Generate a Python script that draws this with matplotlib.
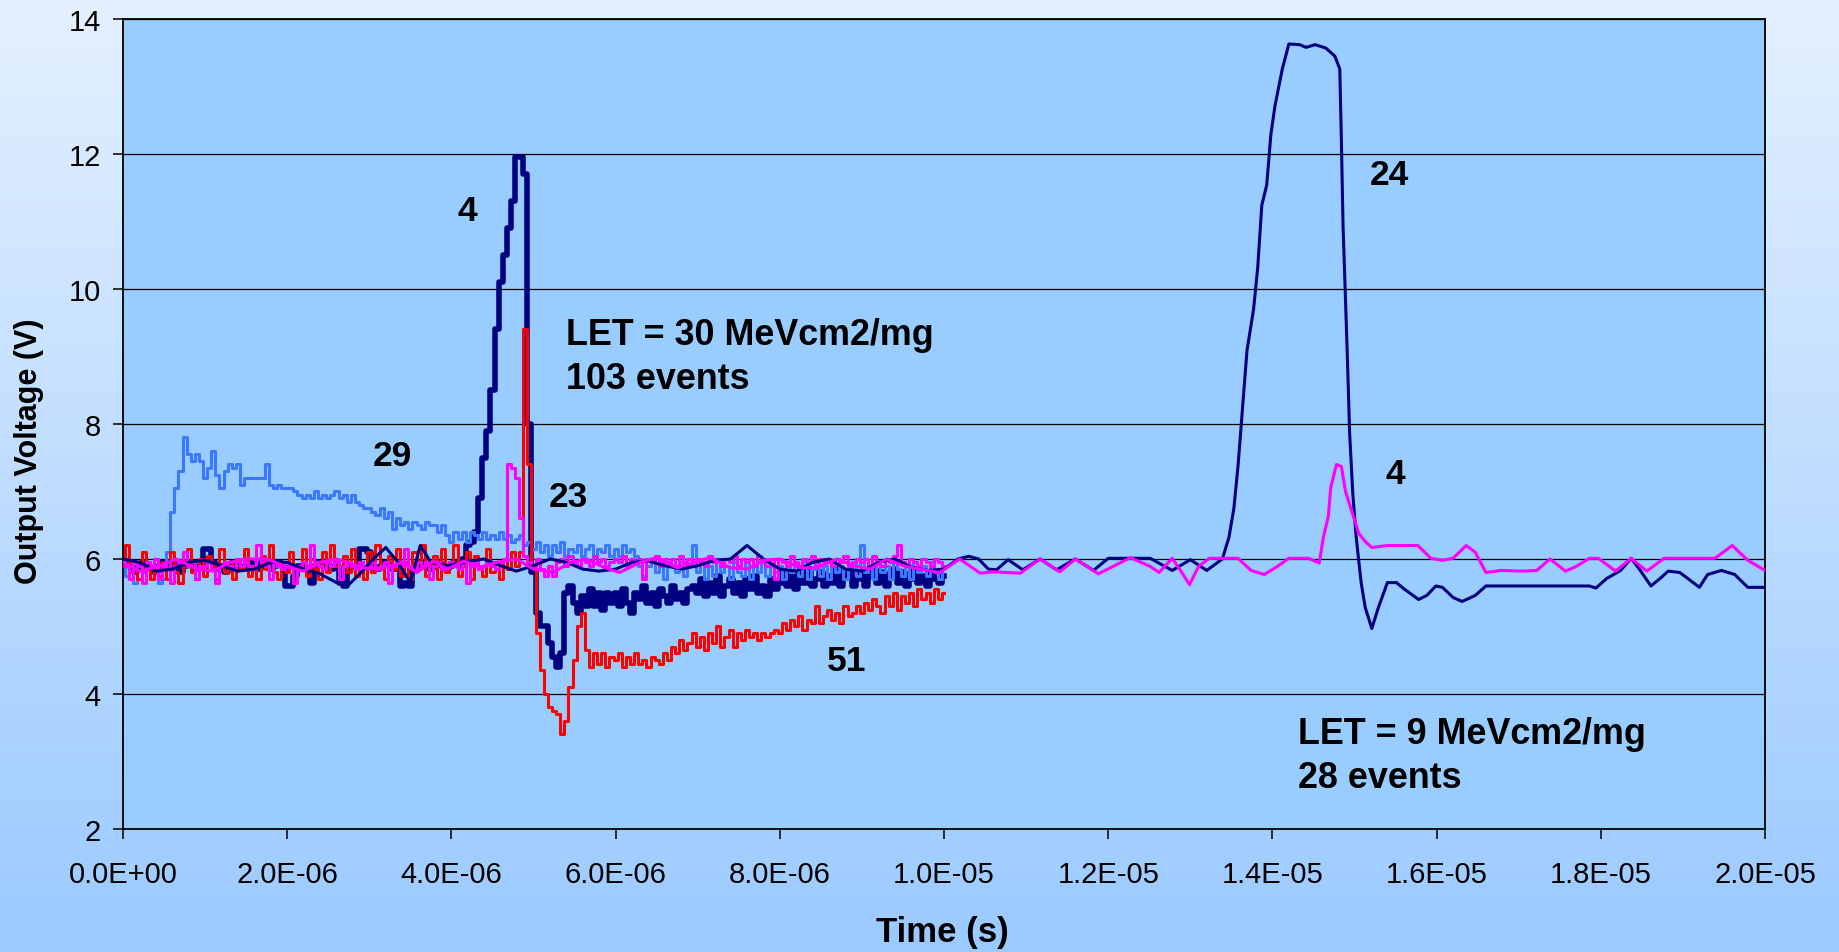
import numpy as np
import matplotlib
matplotlib.use("Agg")
import matplotlib.pyplot as plt

plt.rcParams['font.family'] = ['Liberation Sans', 'DejaVu Sans']

us = 1e-6

# LET = 30 MeVcm2/mg traces, one sample every 0.05 us from 0 to 10 us
navy30 = [
    5.95, 5.95, 5.9, 5.8, 5.85, 5.95, 5.9, 5.85, 5.8, 5.9, 5.95, 5.9, 5.95, 5.85, 5.8, 5.9, 5.95, 5.9, 5.85, 5.9,
    6.15, 6.15, 5.95, 5.85, 5.9, 5.8, 5.9, 5.95, 5.9, 5.85, 5.9, 5.95, 5.9, 5.85, 5.95, 5.9, 5.85, 5.9, 5.95, 5.9,
    5.6, 5.6, 5.75, 5.9, 5.9, 5.85, 5.65, 5.9, 5.95, 5.9, 5.9, 5.85, 5.9, 5.65, 5.6, 5.85, 5.9, 5.9, 6.15, 6.15,
    6.1, 5.9, 5.85, 5.9, 5.95, 5.9, 5.85, 5.9, 5.6, 5.65, 5.6, 5.85, 5.9, 5.95, 5.9, 5.85, 5.9, 5.95, 5.9, 5.85,
    5.9, 5.95, 5.9, 6.0, 6.2, 6.25, 6.4, 6.9, 7.5, 7.9, 8.5, 9.4, 10.1, 10.5, 10.9, 11.3, 11.95, 11.95, 11.7, 8.0,
    5.8, 5.2, 5.0, 5.0, 4.75, 4.55, 4.4, 4.6, 5.5, 5.6, 5.35, 5.2, 5.45, 5.3, 5.55, 5.3, 5.5, 5.25, 5.5, 5.35,
    5.5, 5.3, 5.55, 5.35, 5.2, 5.5, 5.4, 5.6, 5.35, 5.5, 5.3, 5.55, 5.45, 5.35, 5.6, 5.4, 5.5, 5.35, 5.55, 5.6,
    5.5, 5.7, 5.45, 5.65, 5.5, 5.75, 5.45, 5.6, 5.7, 5.5, 5.65, 5.45, 5.7, 5.55, 5.75, 5.5, 5.6, 5.45, 5.7, 5.55,
    5.65, 5.8, 5.6, 5.75, 5.55, 5.8, 5.65, 5.85, 5.6, 5.7, 5.8, 5.6, 5.75, 5.65, 5.85, 5.6, 5.75, 5.8, 5.6, 5.7,
    5.8, 5.6, 5.75, 5.85, 5.65, 5.8, 5.6, 5.75, 5.85, 5.65, 5.8, 5.6, 5.7, 5.85, 5.65, 5.75, 5.6, 5.8, 5.7, 5.65, 5.75,
]
blue30 = [
    5.95, 5.75, 5.95, 5.65, 5.9, 5.8, 5.95, 5.7, 5.85, 5.65, 5.7, 6.1, 6.7, 7.05, 7.3, 7.8, 7.55, 7.45, 7.55, 7.45,
    7.2, 7.35, 7.6, 7.25, 7.05, 7.3, 7.4, 7.35, 7.4, 7.1, 7.2, 7.2, 7.2, 7.2, 7.2, 7.4, 7.1, 7.05, 7.1, 7.05,
    7.05, 7.05, 7.0, 6.95, 6.9, 6.95, 6.9, 7.0, 6.9, 6.95, 6.9, 6.95, 7.0, 6.9, 6.95, 6.85, 6.95, 6.85, 6.8, 6.75,
    6.75, 6.7, 6.65, 6.75, 6.6, 6.7, 6.45, 6.6, 6.5, 6.55, 6.45, 6.55, 6.5, 6.45, 6.55, 6.5, 6.5, 6.4, 6.5, 6.35,
    6.25, 6.4, 6.3, 6.4, 6.25, 6.4, 6.35, 6.3, 6.4, 6.3, 6.35, 6.3, 6.4, 6.3, 6.35, 6.25, 6.3, 6.35, 6.2, 6.25,
    6.15, 6.25, 6.1, 6.2, 6.05, 6.2, 6.1, 6.25, 6.05, 6.15, 6.1, 6.2, 6.05, 6.15, 6.2, 6.05, 6.15, 6.1, 6.2, 6.05,
    6.15, 6.05, 6.2, 6.1, 6.15, 6.05, 5.9, 5.75, 5.9, 6.0, 5.8, 5.95, 5.7, 5.9, 6.0, 5.8, 5.95, 5.75, 5.9, 6.2,
    5.8, 5.95, 5.7, 5.9, 5.75, 6.0, 5.8, 5.9, 5.7, 5.95, 5.8, 5.75, 5.95, 5.7, 5.9, 5.8, 6.0, 5.75, 5.9, 5.8,
    5.9, 5.7, 5.95, 5.8, 5.9, 5.75, 5.95, 5.7, 5.85, 5.95, 5.75, 5.9, 5.7, 5.95, 5.8, 5.9, 5.7, 5.85, 5.95, 5.75,
    6.2, 5.8, 5.9, 5.7, 5.95, 5.8, 5.9, 5.7, 5.95, 5.85, 5.75, 5.9, 5.7, 5.95, 5.8, 5.9, 5.75, 5.95, 5.8, 5.7, 5.9,
]
red30 = [
    5.9, 6.2, 5.8, 5.95, 5.7, 6.1, 5.85, 5.7, 6.0, 5.75, 5.95, 5.7, 6.1, 5.8, 5.65, 5.95, 6.15, 5.8, 5.7, 6.0,
    5.75, 6.05, 5.9, 5.7, 6.15, 5.8, 5.95, 5.7, 6.0, 5.85, 6.15, 5.75, 5.9, 5.7, 6.05, 5.85, 6.2, 5.8, 5.7, 5.95,
    5.8, 6.1, 5.7, 5.9, 6.15, 5.75, 6.0, 5.85, 5.7, 6.1, 5.8, 6.2, 5.9, 5.7, 6.05, 5.8, 6.15, 5.75, 5.95, 5.7,
    6.1, 5.8, 6.2, 5.9, 5.7, 6.05, 5.85, 6.15, 5.75, 5.95, 5.7, 6.1, 5.85, 6.2, 5.75, 5.9, 6.05, 5.7, 6.15, 5.8,
    5.95, 6.2, 5.75, 5.9, 6.1, 5.7, 6.05, 5.85, 5.75, 6.15, 5.8, 5.95, 5.7, 6.0, 5.85, 6.1, 5.9, 6.1, 9.4, 7.4,
    5.9, 4.9, 4.35, 4.0, 3.8, 3.75, 3.7, 3.4, 3.6, 4.1, 4.5, 5.0, 5.2, 4.65, 4.4, 4.6, 4.45, 4.6, 4.4, 4.55,
    4.5, 4.6, 4.4, 4.55, 4.45, 4.6, 4.45, 4.5, 4.4, 4.55, 4.5, 4.45, 4.6, 4.5, 4.7, 4.6, 4.8, 4.65, 4.75, 4.9,
    4.7, 4.85, 4.65, 4.9, 4.75, 5.0, 4.7, 4.85, 4.95, 4.7, 4.9, 4.8, 4.95, 4.85, 4.9, 4.8, 4.9, 4.85, 4.9, 4.95,
    4.9, 5.05, 4.95, 5.1, 5.0, 5.15, 4.95, 5.1, 5.05, 5.3, 5.05, 5.15, 5.25, 5.1, 5.2, 5.05, 5.3, 5.15, 5.2, 5.3,
    5.2, 5.35, 5.25, 5.4, 5.3, 5.2, 5.45, 5.3, 5.5, 5.25, 5.45, 5.35, 5.5, 5.3, 5.55, 5.4, 5.5, 5.35, 5.55, 5.4, 5.5,
]
magenta30 = [
    5.95, 5.9, 5.7, 5.95, 5.9, 5.65, 5.95, 5.9, 6.0, 5.7, 5.9, 5.95, 5.65, 5.9, 5.95, 6.1, 5.9, 5.95, 5.7, 5.9,
    5.9, 5.95, 5.85, 5.65, 5.9, 5.95, 5.9, 5.85, 6.0, 5.9, 5.95, 5.9, 5.85, 6.2, 5.95, 5.9, 5.7, 5.95, 5.9, 5.85,
    5.95, 5.9, 5.65, 5.9, 5.95, 5.9, 6.2, 5.95, 5.9, 5.85, 5.95, 5.9, 5.95, 5.7, 5.9, 5.95, 5.9, 5.85, 5.95, 5.9,
    5.9, 5.95, 5.85, 5.9, 5.95, 5.65, 5.9, 5.95, 5.9, 6.15, 5.9, 5.85, 5.95, 5.9, 5.95, 5.7, 5.9, 5.95, 5.85, 5.9,
    5.95, 5.9, 5.85, 5.95, 5.65, 5.9, 5.95, 5.85, 5.9, 5.95, 5.9, 5.85, 5.95, 6.0, 7.4, 7.35, 7.2, 6.6, 6.05, 5.95,
    5.9, 6.0, 5.85, 5.75, 5.9, 5.75, 5.95, 6.0, 5.9, 6.05, 5.95, 5.9, 6.0, 5.95, 5.9, 6.05, 5.95, 6.0, 5.9, 5.95,
    6.0, 5.95, 6.05, 5.9, 6.0, 5.95, 6.0, 5.7, 6.0, 5.95, 6.05, 5.9, 6.0, 5.95, 6.0, 5.9, 6.05, 5.95, 6.0, 5.9,
    6.0, 5.95, 5.9, 6.05, 5.95, 6.0, 5.9, 6.0, 5.95, 6.05, 5.9, 6.0, 5.95, 6.0, 5.9, 6.05, 5.95, 5.9, 6.0, 5.7,
    6.0, 5.95, 5.9, 6.05, 5.95, 5.9, 6.0, 5.95, 6.05, 5.9, 6.0, 5.95, 6.0, 5.9, 6.0, 5.95, 6.05, 5.9, 5.95, 6.0,
    5.95, 6.0, 5.9, 6.05, 5.95, 5.9, 6.0, 5.95, 6.05, 6.2, 5.95, 5.9, 6.0, 5.95, 5.9, 6.0, 5.95, 5.9, 6.0, 5.95, 5.9,
]

# LET = 9 MeVcm2/mg traces, times in us
navy9_t = [0.0, 0.2, 0.4, 0.6, 0.8, 1.0, 1.2, 1.4, 1.6, 1.8, 2.0, 2.2, 2.4, 2.6, 2.75, 2.9, 3.05, 3.2, 3.35,
           3.5, 3.62, 3.75, 3.95, 4.15, 4.39, 4.6, 4.79, 5.0, 5.2, 5.4, 5.6, 5.8, 6.0, 6.2, 6.4, 6.6, 6.8,
           7.0, 7.2, 7.4, 7.6, 7.8, 8.0, 8.2, 8.4, 8.6, 8.8, 9.0, 9.2, 9.4, 9.6, 9.8, 10.0, 10.17, 10.3,
           10.42, 10.54, 10.64, 10.78, 10.96, 11.17, 11.37, 11.6, 11.82, 12.0, 12.3, 12.51, 12.78, 13.0,
           13.2, 13.39, 13.47, 13.53, 13.58, 13.63, 13.69, 13.77, 13.82, 13.87, 13.93, 13.98, 14.03, 14.12,
           14.2, 14.33, 14.41, 14.52, 14.65, 14.76, 14.82, 14.84, 14.86, 14.91, 14.94, 14.98, 15.02, 15.08,
           15.13, 15.21, 15.29, 15.4, 15.51, 15.61, 15.78, 15.88, 15.99, 16.07, 16.2, 16.31, 16.47, 16.6,
           17.86, 17.94, 18.07, 18.24, 18.37, 18.48, 18.61, 18.72, 18.82, 18.96, 19.06, 19.2, 19.3, 19.47,
           19.63, 19.79, 20.0]
navy9_v = [6.0, 5.95, 5.82, 5.85, 5.95, 5.98, 5.9, 5.82, 5.85, 5.95, 5.95, 5.85, 5.78, 5.65, 5.62, 5.8, 6.0, 6.17, 5.95,
           5.65, 6.2, 5.95, 5.9, 5.95, 6.0, 5.9, 5.82, 5.9, 6.0, 5.95, 5.85, 5.82, 5.85, 5.95, 5.97, 5.9, 5.85,
           5.9, 5.98, 6.0, 6.2, 6.0, 5.85, 5.82, 5.95, 6.0, 5.85, 5.82, 5.95, 6.0, 5.88, 5.83, 5.85, 6.0, 6.04,
           6.0, 5.85, 5.84, 5.99, 5.84, 6.0, 5.84, 6.0, 5.83, 6.01, 6.01, 6.01, 5.83, 5.99,
           5.83, 6.0, 6.32, 6.75, 7.37, 8.16, 9.09, 9.70, 10.31, 11.24, 11.54, 12.28, 12.71, 13.26,
           13.63, 13.62, 13.58, 13.62, 13.57, 13.45, 13.26, 12.16, 10.93, 9.09, 7.86, 6.94, 6.32, 5.65,
           5.28, 4.97, 5.28, 5.65, 5.65, 5.55, 5.40, 5.46, 5.60, 5.58, 5.43, 5.37, 5.46, 5.60,
           5.60, 5.57, 5.71, 5.83, 6.01, 5.83, 5.60, 5.71, 5.82, 5.80, 5.71, 5.58, 5.77, 5.83,
           5.77, 5.58, 5.58]

magenta9_t = [0.0, 0.2, 0.4, 0.65, 0.9, 1.1, 1.3, 1.5, 1.75, 2.0, 2.2, 2.4, 2.6, 2.85, 3.0, 3.2, 3.4, 3.58, 3.78,
              3.95, 4.15, 4.35, 4.55, 4.79, 5.0, 5.24, 5.45, 5.65, 5.85, 6.05, 6.3, 6.5, 6.75, 6.95, 7.15, 7.4,
              7.6, 7.8, 8.0, 8.25, 8.45, 8.7, 8.9, 9.1, 9.3, 9.5, 9.7, 9.95, 10.19, 10.44, 10.6, 10.93, 11.17,
              11.41, 11.6, 11.88, 12.27, 12.51, 12.62, 12.78, 12.88, 12.99, 13.1, 13.23, 13.58, 13.74, 13.9,
              14.06, 14.2, 14.44, 14.57, 14.62, 14.68, 14.71, 14.78, 14.84, 14.89, 14.97, 15.05, 15.13, 15.21,
              15.4, 15.77, 15.93, 16.07, 16.2, 16.36, 16.47, 16.6, 16.79, 17.06, 17.22, 17.38, 17.57, 17.7,
              17.86, 17.97, 18.18, 18.37, 18.56, 18.77, 19.25, 19.39, 19.6, 19.79, 20.0]
magenta9_v = [5.95, 5.82, 5.88, 6.0, 5.85, 5.82, 5.95, 6.0, 6.0, 5.88, 5.82, 5.95, 6.0, 5.9, 5.85, 5.88, 5.95, 5.8, 5.97,
              5.85, 5.97, 5.88, 5.95, 6.0, 5.85, 5.8, 5.95, 6.0, 5.88, 5.8, 5.95, 6.02, 5.87, 5.95, 6.02, 5.87,
              5.85, 5.98, 6.0, 5.87, 5.87, 6.0, 5.9, 5.85, 6.0, 5.9, 5.85, 5.8, 6.0, 5.79, 5.81, 5.79, 6.0,
              5.81, 6.0, 5.78, 6.02, 5.89, 5.80, 6.01, 5.83, 5.62, 5.89, 6.01, 6.01, 5.83, 5.77,
              5.89, 6.01, 6.01, 5.94, 6.32, 6.63, 7.06, 7.40, 7.37, 7.0, 6.69, 6.38, 6.26, 6.17,
              6.2, 6.2, 6.01, 5.98, 6.01, 6.2, 6.1, 5.80, 5.83, 5.82, 5.83, 6.0, 5.82, 5.89,
              6.01, 6.01, 5.82, 6.01, 5.82, 6.01, 6.01, 6.01, 6.2, 5.98, 5.83]

yticks = [2, 4, 6, 8, 10, 12, 14]
xticks = [0, 2e-6, 4e-6, 6e-6, 8e-6, 1e-5, 1.2e-5, 1.4e-5, 1.6e-5, 1.8e-5, 2e-5]
xtick_labels = ['0.0E+00', '2.0E-06', '4.0E-06', '6.0E-06', '8.0E-06', '1.0E-05',
                '1.2E-05', '1.4E-05', '1.6E-05', '1.8E-05', '2.0E-05']

# (text, time in us, volts)
count_labels = [('4', 4.19, 11.17), ('29', 3.28, 7.53), ('23', 5.43, 6.93), ('51', 8.81, 4.5),
                ('24', 15.43, 11.69), ('4', 15.5, 7.26)]
let_labels = [('LET = 30 MeVcm2/mg', 5.40, 9.33), ('103 events', 5.40, 8.67),
              ('LET = 9 MeVcm2/mg', 14.31, 3.42), ('28 events', 14.31, 2.76)]

fig = plt.figure(figsize=(18.39, 9.53), dpi=100)

# light-to-blue background behind the chart
bg = fig.add_axes([0, 0, 1, 1], zorder=-1)
top = np.array([228, 240, 255]) / 255
bottom = np.array([155, 202, 255]) / 255
g = np.linspace(0, 1, 256)[:, None]
grad = top[None, None, :] * (1 - g[:, :, None]) + bottom[None, None, :] * g[:, :, None]
bg.imshow(np.repeat(grad, 2, axis=1), aspect='auto', extent=[0, 1, 0, 1])
bg.axis('off')

ax = fig.add_axes([0.0669, 0.1291, 0.8929, 0.8499])
ax.set_facecolor('#99CCFF')

t30 = np.arange(len(navy30)) * 0.05 * us
ax.plot(t30, navy30, color='#000080', lw=4.0, drawstyle='steps-mid', zorder=3)
ax.plot(t30, blue30, color='#3C78FF', lw=2.2, drawstyle='steps-mid', zorder=4)
ax.plot(t30, red30, color='#FF0000', lw=2.2, drawstyle='steps-mid', zorder=5)
ax.plot(t30, magenta30, color='#FF00FF', lw=2.2, drawstyle='steps-mid', zorder=6)
ax.plot(np.array(navy9_t) * us, navy9_v, color='#000080', lw=2.2, zorder=7)
ax.plot(np.array(magenta9_t) * us, magenta9_v, color='#FF00FF', lw=2.2, zorder=8)

for txt, t, v in count_labels:
    ax.text(t * us, v, txt, ha='center', va='center', fontsize=25.5, fontweight='bold', zorder=10)
for txt, t, v in let_labels:
    ax.text(t * us, v, txt, ha='left', va='center', fontsize=25.8, fontweight='bold', zorder=10)

ax.set_xlim(0, 2e-5)
ax.set_ylim(2, 14)
ax.set_yticks(yticks)
ax.set_xticks(xticks)
ax.set_xticklabels(xtick_labels)
ax.grid(axis='y', color='black', lw=0.9)
ax.set_axisbelow(True)
ax.tick_params(axis='both', direction='out', length=7, width=1.1, labelsize=21, color='black')
ax.tick_params(axis='x', pad=15)
ax.tick_params(axis='y', pad=9)
for s in ax.spines.values():
    s.set_color('black')
    s.set_linewidth(1.3)

ax.set_xlabel('Time (s)', fontsize=25, fontweight='bold', va='center')
ax.set_ylabel('Output Voltage (V)', fontsize=22, fontweight='bold', va='center')
ax.xaxis.set_label_coords(0.499, -0.126)
ax.yaxis.set_label_coords(-0.057, 0.468)

fig.savefig('out.png', dpi=100)
